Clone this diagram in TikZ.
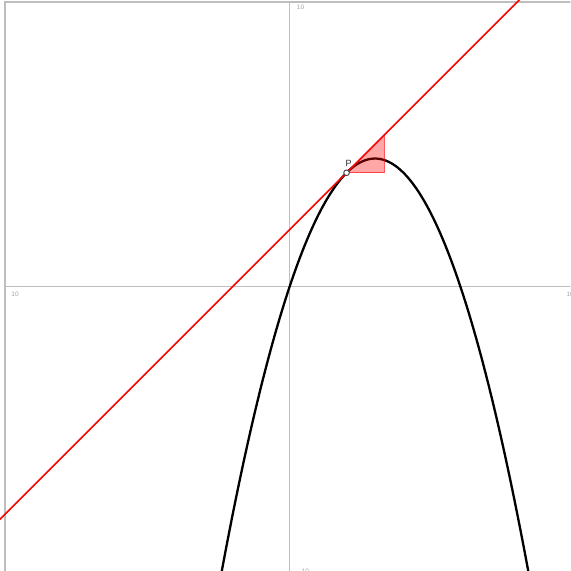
\documentclass[tikz,border=0pt]{standalone}
\usepackage{fontspec}
\setmainfont{Liberation Sans}
\usetikzlibrary{positioning}

\definecolor{gridgray}{RGB}{190,190,190}
\definecolor{labgray}{RGB}{165,165,165}

\tikzset{
	axis/.style={draw=gridgray, line width=1.6pt},
	tick/.style={text=labgray, font=\fontsize{6.5}{6.5}\selectfont, inner sep=0pt},
	graph/.style={line width=2.3pt, black},
	tangent/.style={line width=1.6pt, red},
}

\begin{document}
\begin{tikzpicture}
	\useasboundingbox (-10.175,-9.99) rectangle (9.86,10.07);
	\clip (-10.175,-9.99) rectangle (9.86,10.07);

	\coordinate (BL) at (-10,-10.5);
	\coordinate (TR) at (10.5,10);
	\coordinate (XL) at (-10,0);
	\coordinate (XR) at (10.5,0);
	\coordinate (YB) at (0,-10.5);
	\coordinate (YT) at (0,10);

	\draw[axis] (BL) rectangle (TR);
	\draw[axis] (XL) -- (XR);
	\draw[axis] (YB) -- (YT);

	\node[tick, anchor=west] (ymax) at (0.25,9.83) {10};
	\node[tick, anchor=west] (xmin) at (-9.78,-0.28) {10};
	\node[tick, anchor=west] (xmax) at (9.72,-0.28) {10};
	\node[tick, anchor=west] (ymin) at (0.42,-10.0) {10};

	\draw[graph] plot[domain=-2.6:8.6, samples=120, smooth] (\x, {-0.5*\x*\x+3*\x});

	% slope triangle at P
	\coordinate (Q) at (3.33,4);
	\coordinate (R) at (3.33,5.33);
	\fill[red, fill opacity=0.35] (2,4) -- (Q) -- (R) -- cycle;
	\draw[red, draw opacity=0.6, line width=0.9pt] (2,4) -- (Q) -- (R);

	\coordinate (TL) at (-10.5,-8.5);
	\coordinate (TT) at (8.5,10.5);
	\draw[tangent] (TL) -- (TT);

	\node[circle, draw=black!75, fill=white, line width=0.9pt, inner sep=2pt] (P) at (2,4) {};
	\node[font=\fontsize{9}{9}\selectfont, text=black!85, inner sep=1pt, above=1.5pt of P, xshift=2pt] (Plab) {P};
\end{tikzpicture}
\end{document}
